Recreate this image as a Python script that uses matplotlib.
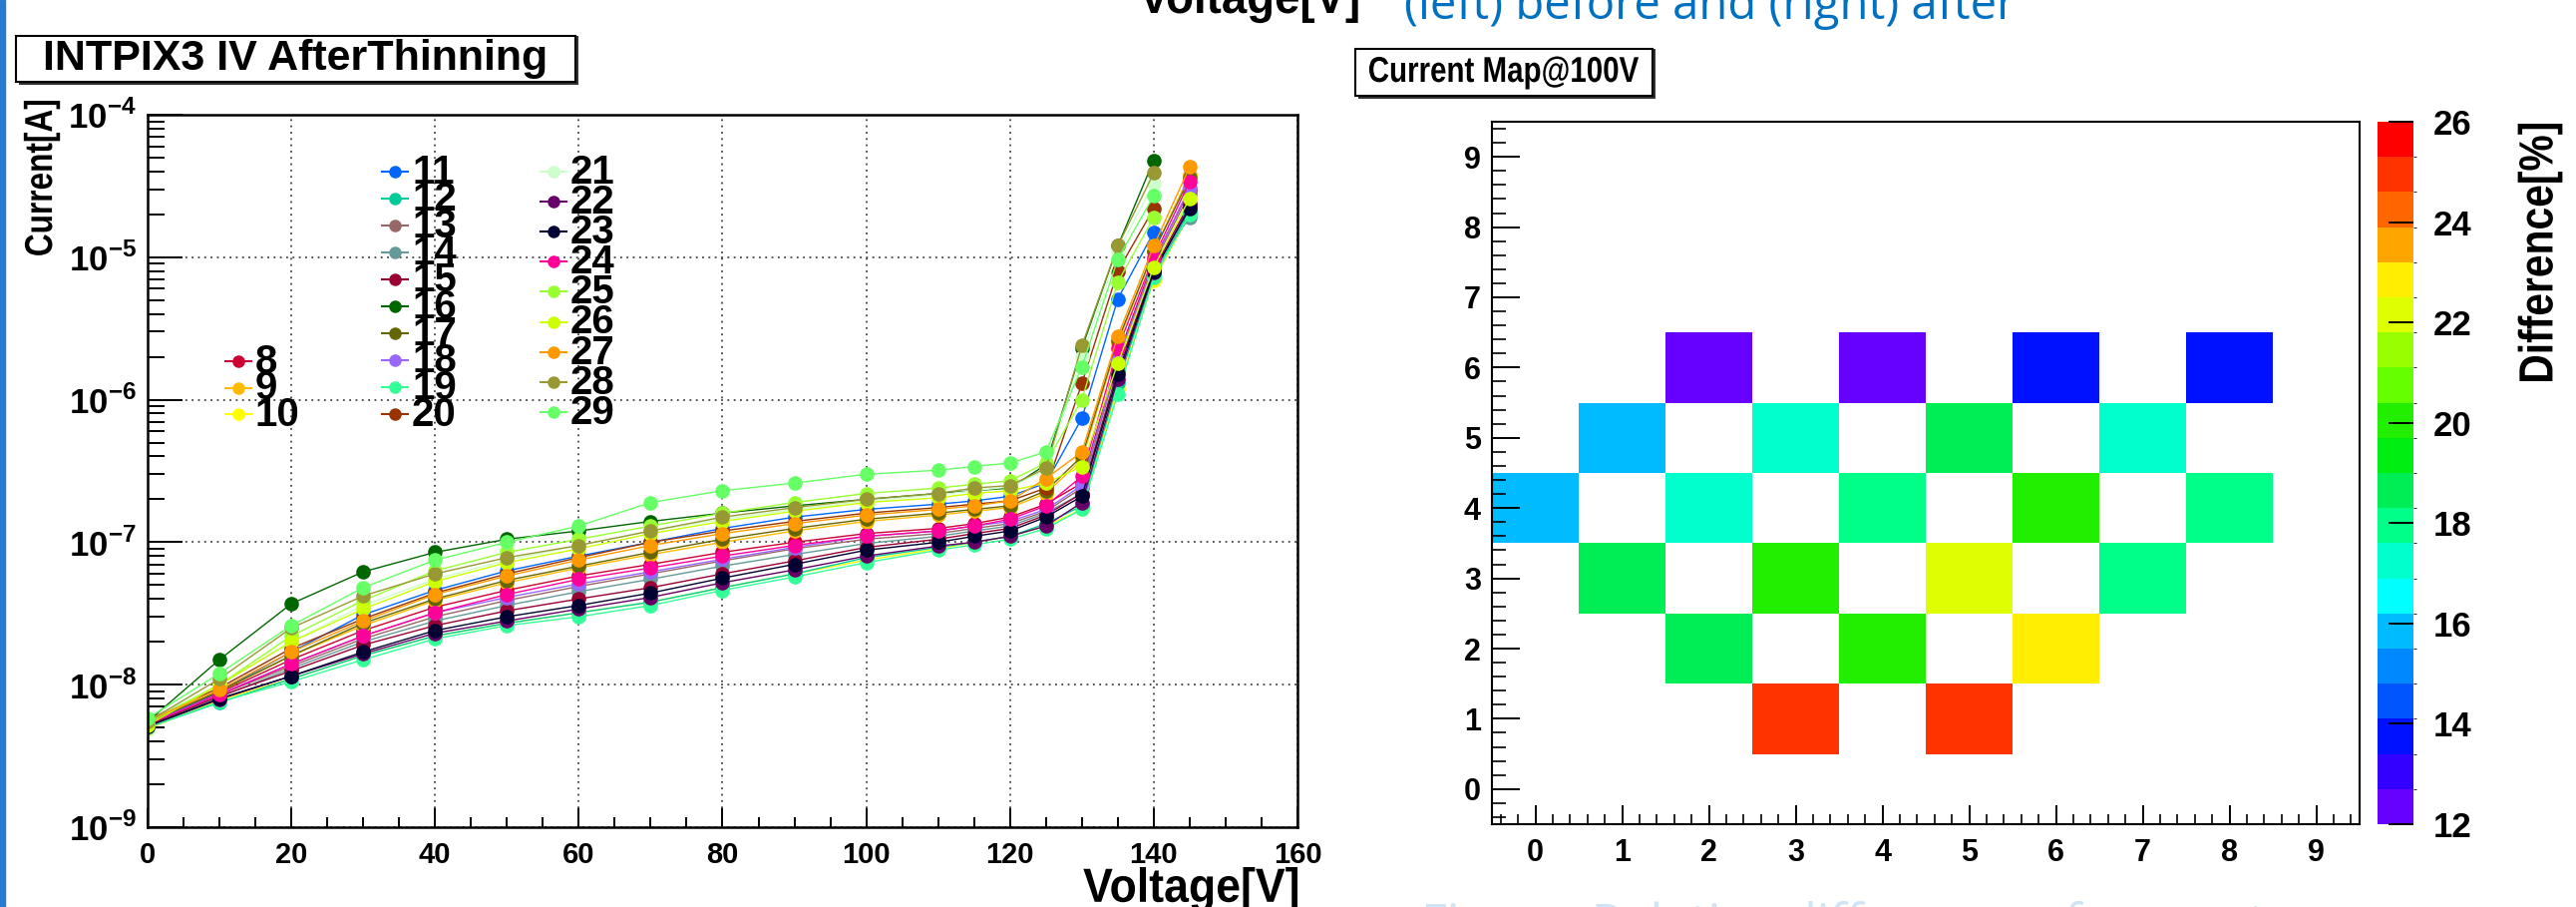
import numpy as np
import matplotlib
matplotlib.use('Agg')
import matplotlib.pyplot as plt
from matplotlib.colors import ListedColormap, BoundaryNorm
from matplotlib.lines import Line2D
from matplotlib.patches import Rectangle, PathPatch
from matplotlib.ticker import MultipleLocator, LogLocator, NullFormatter, FixedLocator
from matplotlib.textpath import TextPath
from matplotlib.font_manager import FontProperties
from matplotlib.transforms import Affine2D, IdentityTransform

W, H = 2583, 909
plt.rcParams['font.family'] = ['Liberation Sans', 'DejaVu Sans']
plt.rcParams['font.weight'] = 'bold'
plt.rcParams['mathtext.fontset'] = 'custom'
plt.rcParams['mathtext.rm'] = 'Liberation Sans:bold'
plt.rcParams['mathtext.bf'] = 'Liberation Sans:bold'

# ---- IV curves (left) ----
voltage = [0, 10, 20, 30, 40, 50, 60, 70, 80, 90, 100, 110, 115, 120, 125, 130, 135, 140, 145]
nan = np.nan
i_08 = [5.4e-9, 8.8e-9, 1.5e-8, 2.4e-8, 3.5e-8, 4.6e-8, 5.8e-8, 7.0e-8, 8.5e-8, 1.0e-7, 1.15e-7, 1.25e-7, 1.35e-7, 1.5e-7, 1.85e-7, 2.6e-7, 2.0e-6, 9.5e-6, 3.0e-5]
i_09 = [5.5e-9, 9.0e-9, 1.6e-8, 2.6e-8, 3.9e-8, 5.2e-8, 6.6e-8, 8.2e-8, 1.0e-7, 1.2e-7, 1.4e-7, 1.55e-7, 1.65e-7, 1.75e-7, 2.2e-7, 3.8e-7, 2.5e-6, 1.1e-5, 3.8e-5]
i_10 = [4.9e-9, 7.8e-9, 1.1e-8, 1.6e-8, 2.2e-8, 2.7e-8, 3.2e-8, 3.8e-8, 4.8e-8, 6.0e-8, 7.5e-8, 9.0e-8, 1.0e-7, 1.1e-7, 1.3e-7, 1.7e-7, 1.2e-6, 6.9e-6, 2.0e-5]
i_11 = [5.3e-9, 9.0e-9, 1.7e-8, 3.1e-8, 4.6e-8, 6.3e-8, 8.0e-8, 1.0e-7, 1.25e-7, 1.5e-7, 1.7e-7, 1.85e-7, 1.95e-7, 2.1e-7, 2.6e-7, 7.4e-7, 5.1e-6, 1.5e-5, nan]
i_12 = [5.0e-9, 7.5e-9, 1.1e-8, 1.6e-8, 2.2e-8, 2.7e-8, 3.2e-8, 3.8e-8, 4.8e-8, 6.0e-8, 7.8e-8, 9.2e-8, 1.0e-7, 1.1e-7, 1.35e-7, 1.8e-7, 1.3e-6, 7.5e-6, 2.1e-5]
i_13 = [5.3e-9, 8.5e-9, 1.35e-8, 2.1e-8, 3.0e-8, 3.9e-8, 4.9e-8, 6.0e-8, 7.4e-8, 9.0e-8, 1.05e-7, 1.15e-7, 1.25e-7, 1.35e-7, 1.65e-7, 2.4e-7, 1.8e-6, 9.0e-6, 2.8e-5]
i_14 = [5.2e-9, 8.2e-9, 1.3e-8, 2.0e-8, 2.8e-8, 3.6e-8, 4.5e-8, 5.5e-8, 6.8e-8, 8.2e-8, 9.8e-8, 1.1e-7, 1.2e-7, 1.3e-7, 1.6e-7, 2.2e-7, 1.6e-6, 8.5e-6, 1.9e-5]
i_15 = [5.2e-9, 8.3e-9, 1.25e-8, 1.9e-8, 2.6e-8, 3.3e-8, 4.0e-8, 4.8e-8, 6.0e-8, 7.4e-8, 9.2e-8, 1.05e-7, 1.15e-7, 1.25e-7, 1.55e-7, 2.2e-7, 1.6e-6, 8.2e-6, 2.4e-5]
i_16 = [5.5e-9, 1.5e-8, 3.7e-8, 6.2e-8, 8.5e-8, 1.05e-7, 1.2e-7, 1.4e-7, 1.6e-7, 1.8e-7, 2.0e-7, 2.2e-7, 2.3e-7, 2.4e-7, 3.5e-7, 2.3e-6, 1.2e-5, 4.8e-5, nan]
i_17 = [5.4e-9, 9.0e-9, 1.6e-8, 2.7e-8, 4.0e-8, 5.4e-8, 6.8e-8, 8.5e-8, 1.05e-7, 1.25e-7, 1.45e-7, 1.6e-7, 1.7e-7, 1.8e-7, 2.3e-7, 4.0e-7, 2.6e-6, 1.1e-5, 3.6e-5]
i_18 = [5.3e-9, 8.6e-9, 1.4e-8, 2.2e-8, 3.2e-8, 4.1e-8, 5.1e-8, 6.2e-8, 7.6e-8, 9.2e-8, 1.1e-7, 1.2e-7, 1.3e-7, 1.4e-7, 1.7e-7, 2.5e-7, 1.9e-6, 9.2e-6, 3.1e-5]
i_19 = [5.0e-9, 7.6e-9, 1.05e-8, 1.5e-8, 2.1e-8, 2.6e-8, 3.0e-8, 3.6e-8, 4.6e-8, 5.7e-8, 7.2e-8, 8.8e-8, 9.6e-8, 1.05e-7, 1.25e-7, 1.7e-7, 1.1e-6, 7.2e-6, 2.0e-5]
i_20 = [5.7e-9, 9.5e-9, 1.8e-8, 2.9e-8, 4.4e-8, 6.0e-8, 7.8e-8, 1.0e-7, 1.2e-7, 1.4e-7, 1.6e-7, 1.75e-7, 1.85e-7, 1.95e-7, 2.4e-7, 1.3e-6, 8.0e-6, 2.2e-5, nan]
i_21 = [5.6e-9, 1.0e-8, 2.0e-8, 3.6e-8, 5.5e-8, 7.5e-8, 9.5e-8, 1.2e-7, 1.45e-7, 1.7e-7, 1.95e-7, 2.15e-7, 2.3e-7, 2.45e-7, 3.2e-7, 2.0e-6, 1.1e-5, 3.3e-5, nan]
i_22 = [5.1e-9, 7.9e-9, 1.15e-8, 1.65e-8, 2.3e-8, 2.8e-8, 3.4e-8, 4.1e-8, 5.2e-8, 6.4e-8, 8.0e-8, 9.4e-8, 1.0e-7, 1.1e-7, 1.3e-7, 1.9e-7, 1.4e-6, 7.8e-6, 2.3e-5]
i_23 = [5.1e-9, 8.0e-9, 1.15e-8, 1.7e-8, 2.4e-8, 3.0e-8, 3.6e-8, 4.4e-8, 5.6e-8, 7.0e-8, 8.8e-8, 1.0e-7, 1.1e-7, 1.2e-7, 1.5e-7, 2.1e-7, 1.5e-6, 8.0e-6, 2.2e-5]
i_24 = [5.3e-9, 8.5e-9, 1.4e-8, 2.2e-8, 3.2e-8, 4.3e-8, 5.5e-8, 6.6e-8, 8.0e-8, 9.5e-8, 1.1e-7, 1.2e-7, 1.3e-7, 1.45e-7, 1.8e-7, 2.9e-7, 2.3e-6, 1.0e-5, 3.4e-5]
i_25 = [5.4e-9, 1.0e-8, 2.2e-8, 3.9e-8, 6.3e-8, 8.5e-8, 1.05e-7, 1.3e-7, 1.6e-7, 1.9e-7, 2.2e-7, 2.4e-7, 2.55e-7, 2.7e-7, 3.6e-7, 1.0e-6, 6.7e-6, 1.9e-5, nan]
i_26 = [5.2e-9, 1.0e-8, 2.0e-8, 3.4e-8, 5.3e-8, 7.2e-8, 9.0e-8, 1.15e-7, 1.4e-7, 1.65e-7, 1.9e-7, 2.05e-7, 2.2e-7, 2.3e-7, 2.6e-7, 3.4e-7, 1.8e-6, 8.5e-6, 2.6e-5]
i_27 = [5.6e-9, 9.2e-9, 1.7e-8, 2.8e-8, 4.3e-8, 5.8e-8, 7.5e-8, 9.5e-8, 1.15e-7, 1.35e-7, 1.55e-7, 1.7e-7, 1.8e-7, 1.95e-7, 2.8e-7, 4.3e-7, 2.8e-6, 1.2e-5, 4.3e-5]
i_28 = [5.5e-9, 1.1e-8, 2.5e-8, 4.2e-8, 6.0e-8, 7.8e-8, 9.5e-8, 1.2e-7, 1.5e-7, 1.75e-7, 2.0e-7, 2.2e-7, 2.4e-7, 2.5e-7, 3.3e-7, 2.4e-6, 1.2e-5, 3.9e-5, nan]
i_29 = [5.8e-9, 1.2e-8, 2.6e-8, 4.8e-8, 7.5e-8, 1.0e-7, 1.3e-7, 1.9e-7, 2.3e-7, 2.6e-7, 3.0e-7, 3.2e-7, 3.4e-7, 3.6e-7, 4.3e-7, 1.7e-6, 9.7e-6, 2.7e-5, nan]

chips = [8, 9, 10, 11, 12, 13, 14, 15, 16, 17, 18, 19, 20, 21, 22, 23, 24, 25, 26, 27, 28, 29]
currents = [i_08, i_09, i_10, i_11, i_12, i_13, i_14, i_15, i_16, i_17, i_18,
            i_19, i_20, i_21, i_22, i_23, i_24, i_25, i_26, i_27, i_28, i_29]
chip_colors = ['#cc0033', '#ffbb00', '#ffff00', '#0066ff', '#00cc99', '#996666', '#669999',
               '#990033', '#006600', '#666600', '#9966ff', '#33ff99', '#993300', '#ccffcc',
               '#660066', '#000033', '#ff0099', '#99ff33', '#ccff00', '#ff9900', '#999933', '#66ff66']

# ---- current map (right) ----
cell_x = [2, 4, 6, 8, 1, 3, 5, 7, 0, 2, 4, 6, 8, 1, 3, 5, 7, 2, 4, 6, 3, 5]
cell_y = [6, 6, 6, 6, 5, 5, 5, 5, 4, 4, 4, 4, 4, 3, 3, 3, 3, 2, 2, 2, 1, 1]
cell_diff = [12.3, 12.3, 13.7, 13.7, 15.8, 17.2, 18.6, 17.2, 15.8, 17.2, 17.9, 20.0, 17.9,
             18.6, 20.0, 22.1, 17.9, 18.6, 20.0, 22.8, 25.0, 25.0]
band_colors = ['#6600ff', '#3300ff', '#0011ff', '#0055ff', '#0088ff', '#00bbff', '#00ffff',
               '#00ffcc', '#00ff88', '#00ee55', '#00ee11', '#22ee00', '#66ff00', '#99ff00',
               '#ddff00', '#ffee00', '#ffa500', '#ff6600', '#ff3300', '#ff0000']


def fx(x):
    return x / W


def fy(y):
    return 1 - y / H


fig = plt.figure(figsize=(W / 100, H / 100), dpi=100)
fig.patch.set_facecolor('white')
BOLD = FontProperties(family='Liberation Sans', weight='bold')


# ROOT draws its labels in a narrow helvetica, so squeeze the outline horizontally
def squeezed_text(x, y, s, em, sx, ha='left', va='baseline', rotation=0):
    tp = TextPath((0, 0), s, size=em, prop=BOLD)
    ext = tp.get_extents()
    dx = {'left': -ext.x0, 'center': -(ext.x0 + ext.x1) / 2, 'right': -ext.x1}[ha]
    dy = {'baseline': 0, 'center': -(ext.y0 + ext.y1) / 2, 'top': -ext.y1}[va]
    tr = Affine2D().translate(dx, dy).scale(sx, 1).rotate_deg(rotation).translate(x, H - y)
    fig.patches.append(PathPatch(tr.transform_path(tp), facecolor='black', edgecolor='none',
                                 transform=IdentityTransform(), zorder=5))


# slide edge strip
fig.patches.append(Rectangle((0, 0), fx(5), 1, transform=fig.transFigure, color='#2a7ad2', zorder=0))

# ===== left: IV curves =====
ax = fig.add_axes([fx(148), fy(829), fx(1301 - 148), (829 - 115) / H])
for cur, col in zip(currents, chip_colors):
    ax.plot(voltage, cur, '-o', color=col, lw=1.0, ms=9.5, mec=col)
ax.set_yscale('log')
ax.set_xlim(0, 160)
ax.set_ylim(1e-9, 1e-4)
ax.xaxis.set_major_locator(MultipleLocator(20))
ax.xaxis.set_minor_locator(MultipleLocator(5))
ax.yaxis.set_minor_locator(LogLocator(base=10, subs=np.arange(2, 10), numticks=10))
ax.yaxis.set_minor_formatter(NullFormatter())
ax.set_yticks([1e-9, 1e-8, 1e-7, 1e-6, 1e-5, 1e-4])
ax.set_yticklabels([r'$10^{-9}$', r'$10^{-8}$', r'$10^{-7}$', r'$10^{-6}$', r'$10^{-5}$', r'$10^{-4}$'],
                   fontsize=25)
ax.tick_params(axis='x', which='major', direction='in', length=14, width=1.4, labelsize=21, pad=10)
ax.tick_params(axis='x', which='minor', direction='in', length=7, width=1.4)
ax.tick_params(axis='y', which='major', direction='in', length=25, width=1.4, pad=8)
ax.tick_params(axis='y', which='minor', direction='in', length=12, width=1.4)
ax.grid(True, which='major', ls=(0, (1, 2.5)), color='#444444', lw=1.3)
for sp in ax.spines.values():
    sp.set_linewidth(1.8)

# legend, ROOT style, three columns
leg_pos = []
for k in range(3):
    leg_pos.append((239, 362 + 26.5 * k))
for k in range(10):
    leg_pos.append((396, 172 + 27 * k))
for k in range(9):
    leg_pos.append((555, 172 + 30.1 * k))
for (lx, ly), chip, col in zip(leg_pos, chips, chip_colors):
    fig.lines.append(Line2D([fx(lx - 13), fx(lx + 13)], [fy(ly), fy(ly)], transform=fig.transFigure,
                            color=col, lw=1.5))
    fig.lines.append(Line2D([fx(lx)], [fy(ly)], transform=fig.transFigure, color=col,
                            marker='o', ms=8, mec=col))
    fig.text(fx(lx + 17), fy(ly + 1), str(chip), fontsize=29, va='center', ha='left')

squeezed_text(42, 101, 'Current[A]', 39, 0.81, ha='right', va='center', rotation=90)
squeezed_text(1301, 869, 'Voltage[V]', 48, 0.93, ha='right', va='top')

# title boxes
fig.patches.append(Rectangle((fx(19), fy(85)), fx(561), (85 - 36) / H, transform=fig.transFigure,
                             facecolor='#333333', edgecolor='none', zorder=1))
fig.patches.append(Rectangle((fx(16), fy(82)), fx(561), (82 - 36) / H, transform=fig.transFigure,
                             facecolor='white', edgecolor='black', lw=1.5, zorder=2))
fig.text(fx(296), fy(59), 'INTPIX3 IV AfterThinning', fontsize=31, ha='center', va='center', zorder=3)

fig.patches.append(Rectangle((fx(1362), fy(99)), fx(298), (99 - 49) / H, transform=fig.transFigure,
                             facecolor='#333333', edgecolor='none', zorder=1))
fig.patches.append(Rectangle((fx(1359), fy(96)), fx(298), (96 - 49) / H, transform=fig.transFigure,
                             facecolor='white', edgecolor='black', lw=1.5, zorder=2))
squeezed_text(1508, 73, 'Current Map@100V', 36, 0.82, ha='center', va='center')

# ===== right: current map =====
ax2 = fig.add_axes([fx(1496), fy(826), fx(2366 - 1496), (826 - 122) / H])
grid = np.full((10, 10), np.nan)
for cx, cy, v in zip(cell_x, cell_y, cell_diff):
    grid[cy, cx] = v
cmap = ListedColormap(band_colors)
norm = BoundaryNorm(np.linspace(12, 26, 21), cmap.N)
edges = np.arange(-0.5, 10.0, 1.0)
mesh = ax2.pcolormesh(edges, edges, np.ma.masked_invalid(grid), cmap=cmap, norm=norm)
ax2.set_xlim(-0.5, 9.5)
ax2.set_ylim(-0.5, 9.5)
ax2.xaxis.set_major_locator(FixedLocator(range(10)))
ax2.yaxis.set_major_locator(FixedLocator(range(10)))
ax2.xaxis.set_minor_locator(MultipleLocator(0.2))
ax2.yaxis.set_minor_locator(MultipleLocator(0.2))
ax2.tick_params(axis='x', which='major', direction='in', length=14, width=1.4, labelsize=22, pad=10)
ax2.tick_params(axis='x', which='minor', direction='in', length=7, width=1.2)
ax2.tick_params(axis='y', which='major', direction='in', length=20, width=1.4, labelsize=22, pad=8)
ax2.tick_params(axis='y', which='minor', direction='in', length=10, width=1.2)
for sp in ax2.spines.values():
    sp.set_linewidth(1.5)

cax = fig.add_axes([fx(2384), fy(826), fx(36), (826 - 122) / H])
cb = fig.colorbar(mesh, cax=cax, ticks=range(12, 27, 2))
cb.outline.set_visible(False)
cax.tick_params(direction='in', length=18, width=1.4, labelsize=25, pad=14)
squeezed_text(2547, 124, 'Difference[%]', 48, 0.85, ha='right', va='center', rotation=90)

# slide text cut by the crop
squeezed_text(1252, 13, 'Voltage[V]', 48, 0.95, ha='center', va='baseline')
fig.text(fx(1408), fy(19), '(left) before and (right) after', fontsize=34, color='#0070c0',
         family=['Open Sans', 'DejaVu Sans'], fontweight='normal', ha='left', va='baseline')
fig.text(fx(1425), fy(941), 'Figure: Relative difference of current', fontsize=36, color='#cfe4f5',
         family=['Open Sans', 'DejaVu Sans'], fontweight='normal', ha='left', va='baseline')

fig.savefig('out.png', dpi=100, facecolor='white')
